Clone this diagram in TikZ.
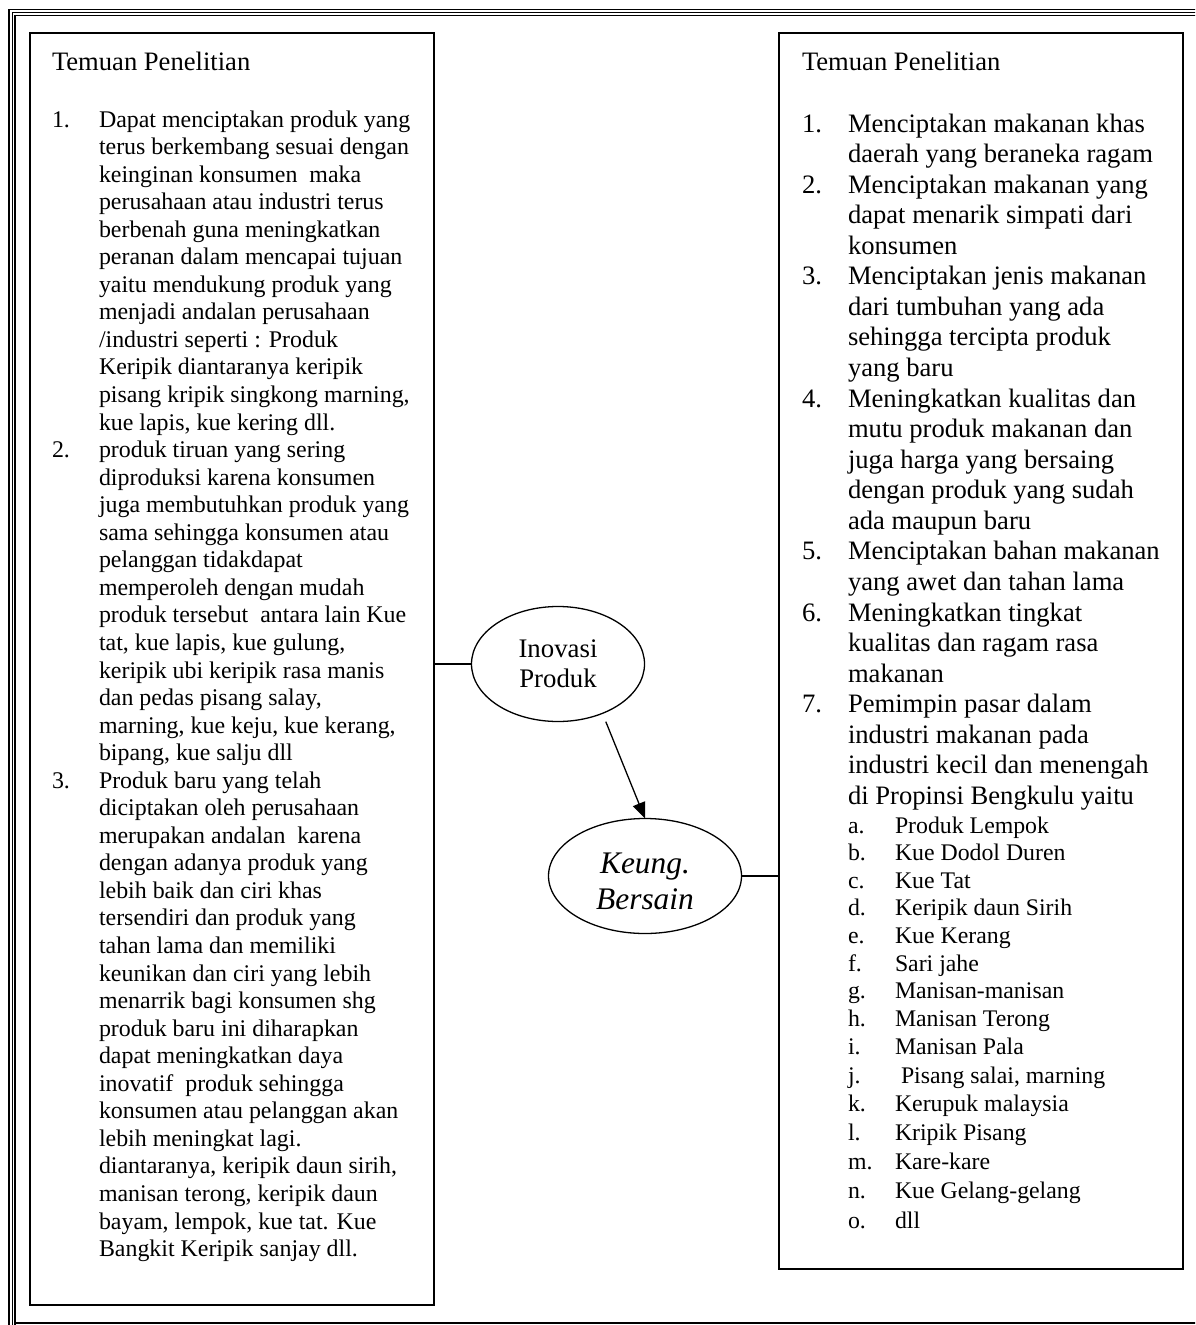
\documentclass[tikz,border=0pt]{standalone}
\usepackage{fontspec}
\setmainfont{Liberation Serif}
\usetikzlibrary{shapes.geometric,arrows.meta}
\newcommand\fbody{\fontsize{23.9}{27.55}\selectfont}
\newcommand\fhead{\fontsize{26.6}{30.56}\selectfont}
\newcommand\fsubl{\fontsize{23.8}{28}\selectfont}
\tikzset{
  panel/.style={draw, line width=1.6pt, anchor=north west, inner sep=0pt, outer sep=0pt},
  txt/.style={anchor=base west, inner sep=0pt, outer sep=0pt},
  oval/.style={ellipse, draw, line width=1.3pt, inner sep=0pt, outer sep=0pt, align=center},
  conn/.style={line width=1.3pt},
  rule/.style={line width=#1}
}
\begin{document}
\begin{tikzpicture}[x=1pt,y=-1pt]
\useasboundingbox (0,0) rectangle (1195,1325);
\clip (0,0) rectangle (1195,1325);
% page border
\draw[rule=1.6pt] (8.8,1330) -- (8.8,9.3) -- (1200,9.3);
\draw[rule=1.0pt] (12.3,1330) -- (12.3,12.8) -- (1200,12.8);
\draw[rule=1.3pt] (15,1330) -- (15,15.6) -- (1200,15.6);
\draw[rule=1.8pt] (15,1323) -- (1200,1323);

% boxes
\node[panel, minimum width=404pt, minimum height=1272pt] (lbox) at (30,33) {};
\node[panel, minimum width=404pt, minimum height=1236pt] (rbox) at (779,33) {};

% left box text
\node[txt] (lhead) at (52,70) {\fhead Temuan Penelitian};
\node[txt] (ln1) at (52,127) {\fbody 1.};
\node[txt] (lt1) at (99,127) {\parbox[t]{340pt}{\fbody
Dapat menciptakan produk yang\\
terus berkembang sesuai dengan\\
keinginan konsumen\ \ maka\\
perusahaan atau industri terus\\
berbenah guna meningkatkan\\
peranan dalam mencapai tujuan\\
yaitu mendukung produk yang\\
menjadi andalan perusahaan\\
/industri seperti : Produk\\
Keripik diantaranya keripik\\
pisang kripik singkong marning,\\
kue lapis, kue kering dll.}};
\node[txt] (ln2) at (52,457.6) {\fbody 2.};
\node[txt] (lt2) at (99,457.6) {\parbox[t]{340pt}{\fbody
produk tiruan yang sering\\
diproduksi karena konsumen\\
juga membutuhkan produk yang\\
sama sehingga konsumen atau\\
pelanggan tidakdapat\\
memperoleh dengan mudah\\
produk tersebut\ \ antara lain Kue\\
tat, kue lapis, kue gulung,\\
keripik ubi keripik rasa manis\\
dan pedas pisang salay,\\
marning, kue keju, kue kerang,\\
bipang, kue salju dll}};
\node[txt] (ln3) at (52,788.2) {\fbody 3.};
\node[txt] (lt3) at (99,788.2) {\parbox[t]{340pt}{\fbody
Produk baru yang telah\\
diciptakan oleh perusahaan\\
merupakan andalan\ \ karena\\
dengan adanya produk yang\\
lebih baik dan ciri khas\\
tersendiri dan produk yang\\
tahan lama dan memiliki\\
keunikan dan ciri yang lebih\\
menarrik bagi konsumen shg\\
produk baru ini diharapkan\\
dapat meningkatkan daya\\
inovatif\ \ produk sehingga\\
konsumen atau pelanggan akan\\
lebih meningkat lagi.\\
diantaranya, keripik daun sirih,\\
manisan terong, keripik daun\\
bayam, lempok, kue tat. Kue\\
Bangkit Keripik sanjay dll.}};

% right box text
\node[txt] (rhead) at (802,70) {\fhead Temuan Penelitian};
\node[txt] (rn1) at (802,132) {\fhead 1.};
\node[txt] (rt1) at (848,132) {\parbox[t]{340pt}{\fhead
Menciptakan makanan khas\\
daerah yang beraneka ragam}};
\node[txt] (rn2) at (802,193.1) {\fhead 2.};
\node[txt] (rt2) at (848,193.1) {\parbox[t]{340pt}{\fhead
Menciptakan makanan yang\\
dapat menarik simpati dari\\
konsumen}};
\node[txt] (rn3) at (802,284.8) {\fhead 3.};
\node[txt] (rt3) at (848,284.8) {\parbox[t]{340pt}{\fhead
Menciptakan jenis makanan\\
dari tumbuhan yang ada\\
sehingga tercipta produk\\
yang baru}};
\node[txt] (rn4) at (802,407.0) {\fhead 4.};
\node[txt] (rt4) at (848,407.0) {\parbox[t]{340pt}{\fhead
Meningkatkan kualitas dan\\
mutu produk makanan dan\\
juga harga yang bersaing\\
dengan produk yang sudah\\
ada maupun baru}};
\node[txt] (rn5) at (802,559.8) {\fhead 5.};
\node[txt] (rt5) at (848,559.8) {\parbox[t]{340pt}{\fhead
Menciptakan bahan makanan\\
yang awet dan tahan lama}};
\node[txt] (rn6) at (802,621.0) {\fhead 6.};
\node[txt] (rt6) at (848,621.0) {\parbox[t]{340pt}{\fhead
Meningkatkan tingkat\\
kualitas dan ragam rasa\\
makanan}};
\node[txt] (rn7) at (802,712.6) {\fhead 7.};
\node[txt] (rt7) at (848,712.6) {\parbox[t]{340pt}{\fhead
Pemimpin pasar dalam\\
industri makanan pada\\
industri kecil dan menengah\\
di Propinsi Bengkulu yaitu}};

% sub list
\foreach \yy/\lt/\tx [count=\i] in {
  833.0/a./Produk Lempok,
  860.6/b./Kue Dodol Duren,
  888.2/c./Kue Tat,
  915.8/d./Keripik daun Sirih,
  943.4/e./Kue Kerang,
  971.0/f./Sari jahe,
  998.6/g./Manisan-manisan,
  1026.2/h./Manisan Terong,
  1054.5/i./Manisan Pala,
  1083.2/j./\hspace{6pt}Pisang salai{,} marning,
  1111.8/k./Kerupuk malaysia,
  1140.5/l./Kripik Pisang,
  1169.5/m./Kare-kare,
  1198.8/n./Kue Gelang-gelang,
  1228.0/o./dll}{
  \node[txt] (sl\i) at (848,\yy) {\fsubl \lt};
  \node[txt] (st\i) at (895,\yy) {\fsubl \tx};
}

% ellipses
\node[oval, minimum width=173pt, minimum height=115pt,
      font=\fontsize{26.8}{30}\selectfont] (inov) at (558,664) {Inovasi\\Produk};
\node[oval, minimum width=193pt, minimum height=115pt,
      font=\fontsize{31.4}{36}\selectfont\itshape] (keung) at (645,876) {\rule{0pt}{31pt}Keung.\\Bersain};

% connectors
\draw[conn] (inov.west) -- (inov.west -| lbox.east);
\draw[conn] (keung.east) -- (keung.east -| rbox.west);
\draw[conn, -{Triangle[length=16pt,width=13pt]}, shorten <=9pt] (inov.-48) -- (keung.north);
\end{tikzpicture}
\end{document}
